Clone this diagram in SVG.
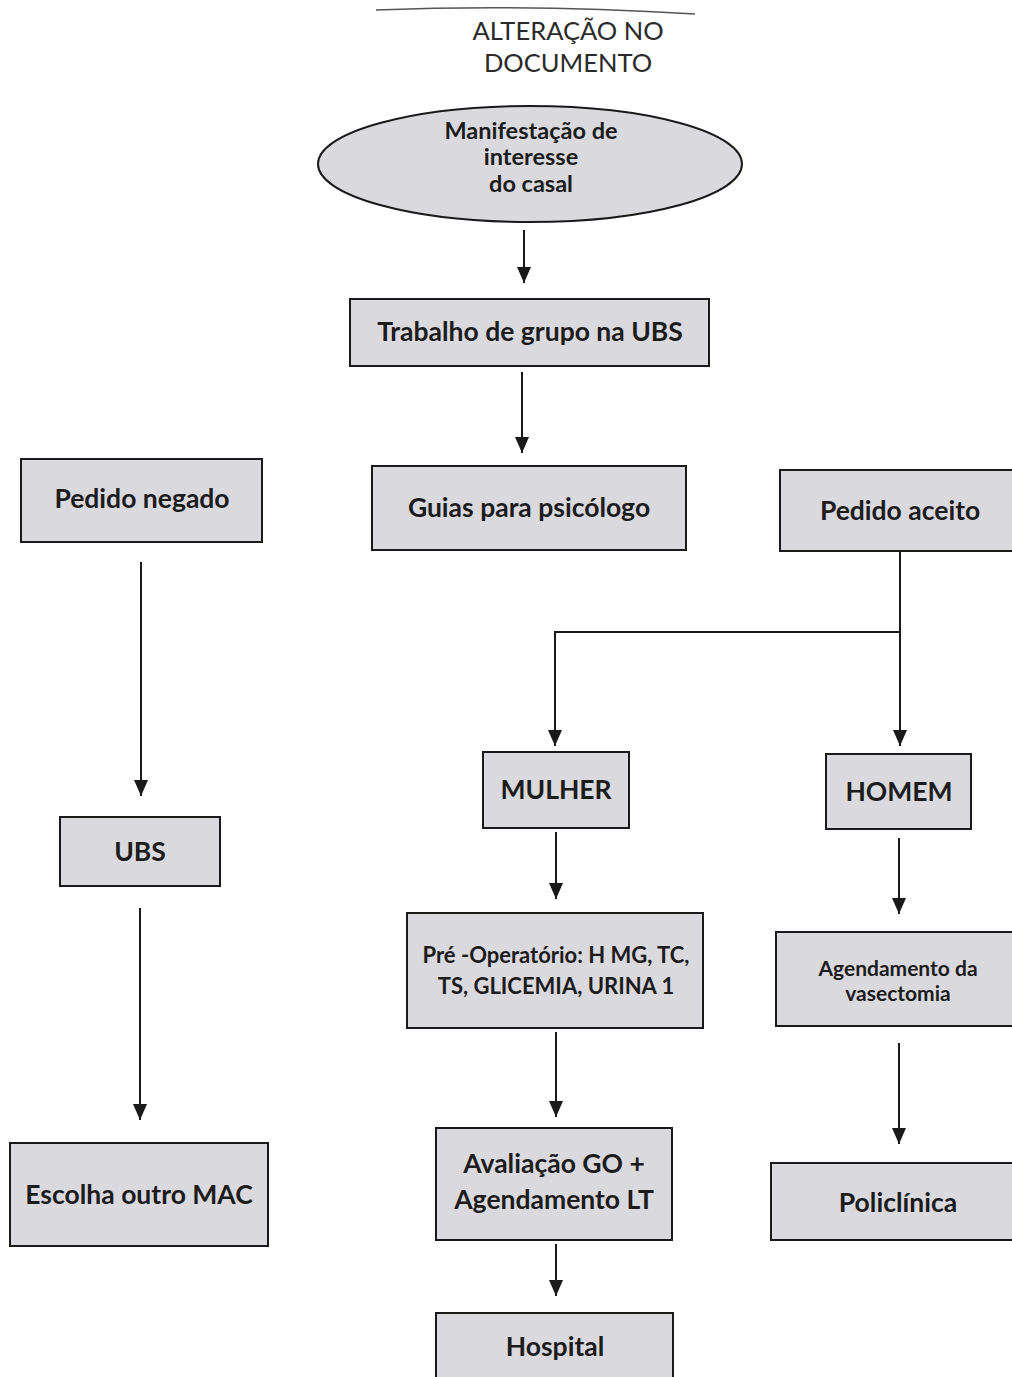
<svg xmlns="http://www.w3.org/2000/svg" width="1012" height="1377" viewBox="0 0 1012 1377">
  <style>
    .box { fill: #d9d9de; stroke: #1a1a1a; stroke-width: 2; }
    .lbl { font-family: "Lato", "Liberation Sans", sans-serif; font-weight: bold; font-size: 26.5px; fill: #1c1c1c; text-anchor: middle; }
    .sm { font-size: 22px; }
    .el { font-size: 23.5px; }
    .ag { font-size: 21px; }
    .hdr { font-family: "Lato", "Liberation Sans", sans-serif; font-size: 25.5px; fill: #2a2a2a; text-anchor: middle; }
    .edge { fill: none; stroke: #1a1a1a; stroke-width: 2; }
  </style>
  <defs>
    <marker id="arrow" markerUnits="userSpaceOnUse" markerWidth="16" markerHeight="14" refX="16" refY="7" orient="auto" viewBox="0 0 16 14">
      <path d="M0,0 L16,7 L0,14 Z" fill="#1a1a1a"/>
    </marker>
  </defs>
  <rect width="1012" height="1377" fill="#ffffff"/>

  <!-- header -->
  <g id="header">
    <path d="M376,10 Q530,4 695,14" fill="none" stroke="#555" stroke-width="1.5"/>
    <text class="hdr" x="568" y="40">ALTERAÇÃO NO</text>
    <text class="hdr" x="568" y="72">DOCUMENTO</text>
  </g>

  <!-- connectors -->
  <g id="connectors">
    <line class="edge" x1="524" y1="230" x2="524" y2="283" marker-end="url(#arrow)"/>
    <line class="edge" x1="522" y1="372" x2="522" y2="453" marker-end="url(#arrow)"/>
    <line class="edge" x1="900" y1="551" x2="900" y2="746" marker-end="url(#arrow)"/>
    <polyline class="edge" points="900,632 555,632 555,746" marker-end="url(#arrow)"/>
    <line class="edge" x1="141" y1="562" x2="141" y2="796" marker-end="url(#arrow)"/>
    <line class="edge" x1="140" y1="908" x2="140" y2="1120" marker-end="url(#arrow)"/>
    <line class="edge" x1="556" y1="832" x2="556" y2="899" marker-end="url(#arrow)"/>
    <line class="edge" x1="556" y1="1032" x2="556" y2="1117" marker-end="url(#arrow)"/>
    <line class="edge" x1="556" y1="1244" x2="556" y2="1296" marker-end="url(#arrow)"/>
    <line class="edge" x1="899" y1="838" x2="899" y2="914" marker-end="url(#arrow)"/>
    <line class="edge" x1="899" y1="1043" x2="899" y2="1144" marker-end="url(#arrow)"/>
  </g>

  <!-- nodes -->
  <g id="manifestacao">
    <ellipse cx="530" cy="164" rx="212" ry="58" fill="#d9d9de" stroke="#1a1a1a" stroke-width="2"/>
    <text class="lbl el" x="531" y="139">Manifestação de</text>
    <text class="lbl el" x="531" y="165">interesse</text>
    <text class="lbl el" x="531" y="192">do casal</text>
  </g>
  <g id="trabalho">
    <rect class="box" x="350" y="299" width="359" height="67"/>
    <text class="lbl" x="530" y="341">Trabalho de grupo  na UBS</text>
  </g>
  <g id="guias">
    <rect class="box" x="372" y="466" width="314" height="84"/>
    <text class="lbl" x="529" y="517">Guias para psicólogo</text>
  </g>
  <g id="negado">
    <rect class="box" x="21" y="459" width="241" height="83"/>
    <text class="lbl" x="142" y="508">Pedido negado</text>
  </g>
  <g id="aceito">
    <rect class="box" x="780" y="470" width="240" height="81"/>
    <text class="lbl" x="900" y="520">Pedido aceito</text>
  </g>
  <g id="mulher">
    <rect class="box" x="483" y="752" width="146" height="76"/>
    <text class="lbl" x="556" y="799">MULHER</text>
  </g>
  <g id="homem">
    <rect class="box" x="826" y="754" width="145" height="75"/>
    <text class="lbl" x="899" y="801">HOMEM</text>
  </g>
  <g id="ubs">
    <rect class="box" x="60" y="817" width="160" height="69"/>
    <text class="lbl" x="140" y="861">UBS</text>
  </g>
  <g id="escolha">
    <rect class="box" x="10" y="1143" width="258" height="103"/>
    <text class="lbl" x="139" y="1204">Escolha outro MAC</text>
  </g>
  <g id="preoperatorio">
    <rect class="box" x="407" y="913" width="296" height="115"/>
    <text class="lbl sm" x="556" y="963">Pré -Operatório: H MG, TC,</text>
    <text class="lbl sm" x="556" y="994">TS, GLICEMIA, URINA 1</text>
  </g>
  <g id="avaliacao">
    <rect class="box" x="436" y="1128" width="236" height="112"/>
    <text class="lbl" x="554" y="1173">Avaliação GO +</text>
    <text class="lbl" x="554" y="1209">Agendamento LT</text>
  </g>
  <g id="hospital">
    <rect class="box" x="436" y="1313" width="237" height="70"/>
    <text class="lbl" x="555" y="1356">Hospital</text>
  </g>
  <g id="agendamento">
    <rect class="box" x="776" y="932" width="244" height="94"/>
    <text class="lbl ag" x="898" y="976">Agendamento da</text>
    <text class="lbl ag" x="898" y="1001">vasectomia</text>
  </g>
  <g id="policlinica">
    <rect class="box" x="771" y="1163" width="249" height="77"/>
    <text class="lbl" x="898" y="1212">Policlínica</text>
  </g>
</svg>
